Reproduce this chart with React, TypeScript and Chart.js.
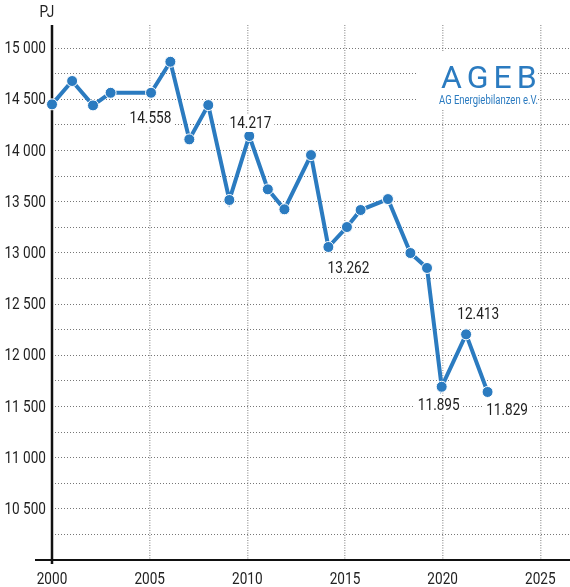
import { useEffect, useRef } from "react";
import { Chart, registerables } from "chart.js";

Chart.register(...registerables);

// ---- data ----
const years = [
  2000, 2001.03, 2002.1, 2003.0, 2005.07, 2006.06, 2007.03, 2008.0, 2009.08,
  2010.1, 2011.05, 2011.9, 2013.26, 2014.15, 2015.1, 2015.8, 2017.2, 2018.35,
  2019.2, 2019.95, 2021.2, 2022.3,
];
const valuesPJ = [
  14450, 14678, 14440, 14563, 14563, 14866, 14108, 14443, 13516, 14141, 13620,
  13425, 13955, 13057, 13252, 13418, 13525, 12998, 12852, 11692, 12204, 11641,
];

const labelTexts = ["14.558", "14.217", "13.262", "11.895", "12.413", "11.829"];
const labelX = [2005.04, 2010.16, 2015.18, 2019.8, 2021.82, 2023.3];
const labelY = [14321, 14268, 12852, 11514, 12402, 11465];

const xTickValues = [2000, 2005, 2010, 2015, 2020, 2025];
const yGridValues = [
  10250, 10500, 10750, 11000, 11250, 11500, 11750, 12000, 12250, 12500, 12750,
  13000, 13250, 13500, 13750, 14000, 14250, 14500, 14750, 15000,
];

const unitLabel = "PJ";
const logoTitle = "AGEB";
const logoSubtitle = "AG Energiebilanzen e.V.";

const BLUE = "#2b7bc0";
const TEXT = "#222";
const FONT = "Roboto, 'Noto Sans', sans-serif";
const FS = 17;
const SX = 0.8;

function fmtY(v: number): string {
  const th = Math.floor(v / 1000);
  const rest = String(v % 1000).padStart(3, "0");
  return th + " " + rest;
}

function narrowText(ctx: CanvasRenderingContext2D, t: string, x: number, y: number, align: CanvasTextAlign, sx = SX) {
  ctx.save();
  ctx.translate(x, y);
  ctx.scale(sx, 1);
  ctx.textAlign = align;
  ctx.textBaseline = "middle";
  ctx.fillText(t, 0, 0);
  ctx.restore();
}

export default function App() {
  const ref = useRef<HTMLCanvasElement | null>(null);

  useEffect(() => {
    const canvas = ref.current;
    if (!canvas) return;

    const decor = {
      id: "decor",
      beforeDatasetsDraw(chart: any) {
        const ctx = chart.ctx;
        const ca = chart.chartArea;
        const xs = chart.scales.x;
        const ys = chart.scales.y;
        ctx.save();
        // logo background box
        ctx.fillStyle = "#fff";
        ctx.fillRect(418, 52, 119, 58);
        // axes
        ctx.strokeStyle = "#111";
        ctx.setLineDash([]);
        ctx.lineWidth = 2.5;
        ctx.beginPath();
        ctx.moveTo(ca.left, ca.top);
        ctx.lineTo(ca.left, ca.bottom + 4);
        ctx.stroke();
        ctx.lineWidth = 2;
        ctx.beginPath();
        ctx.moveTo(35, ca.bottom);
        ctx.lineTo(570, ca.bottom);
        ctx.stroke();
        // tick labels
        ctx.fillStyle = TEXT;
        ctx.font = FS + "px " + FONT;
        yGridValues.forEach((v) => {
          if (v % 500 !== 0) return;
          narrowText(ctx, fmtY(v), ca.left - 6, ys.getPixelForValue(v) + 1, "right");
        });
        xTickValues.forEach((v) => {
          narrowText(ctx, String(v), xs.getPixelForValue(v), ca.bottom + 20, "center");
        });
        narrowText(ctx, unitLabel, 47, 13, "center");
        ctx.restore();
      },
      afterDatasetsDraw(chart: any) {
        const ctx = chart.ctx;
        const xs = chart.scales.x;
        const ys = chart.scales.y;
        ctx.save();
        ctx.font = FS + "px " + FONT;
        labelTexts.forEach((t, i) => {
          const px = xs.getPixelForValue(labelX[i]);
          const py = ys.getPixelForValue(labelY[i]);
          const w = ctx.measureText(t).width * SX;
          ctx.fillStyle = "#fff";
          ctx.fillRect(px - w / 2 - 3, py - 9, w + 6, 18);
          ctx.fillStyle = TEXT;
          narrowText(ctx, t, px, py + 1, "center");
        });
        // logo
        ctx.fillStyle = BLUE;
        ctx.textAlign = "left";
        ctx.textBaseline = "alphabetic";
        ctx.font = "32px Roboto, 'Noto Sans', sans-serif";
        (ctx as any).letterSpacing = "5px";
        ctx.fillText(logoTitle, 441, 88);
        (ctx as any).letterSpacing = "0px";
        ctx.font = "12px " + FONT;
        const sw = ctx.measureText(logoSubtitle).width;
        narrowText(ctx, logoSubtitle, 439, 101, "left", Math.min(1, 99 / sw));
        ctx.restore();
      },
    };

    const chart = new Chart(canvas, {
      type: "line",
      data: {
        datasets: [
          {
            data: years.map((x, i) => ({ x, y: valuesPJ[i] })),
            borderColor: BLUE,
            backgroundColor: BLUE,
            borderWidth: 4,
            pointRadius: 5.5,
            pointBackgroundColor: BLUE,
            pointBorderColor: "#fff",
            pointBorderWidth: 1,
            tension: 0,
            clip: false as any,
          },
        ],
      },
      options: {
        animation: false,
        responsive: false,
        maintainAspectRatio: false,
        layout: { autoPadding: false, padding: { top: 25, right: 0, left: 0, bottom: 0 } },
        plugins: { legend: { display: false }, tooltip: { enabled: false } },
        scales: {
          x: {
            type: "linear",
            min: 2000,
            max: 2026.52,
            afterBuildTicks: (s: any) => {
              s.ticks = xTickValues.map((v) => ({ value: v }));
            },
            afterFit: (s: any) => {
              s.height = 27;
            },
            ticks: { display: false },
            grid: {
              drawTicks: false,
              color: (c: any) => (c.tick && c.tick.value === 2000 ? "rgba(0,0,0,0)" : "#a8a8a8"),
              lineWidth: 1.5,
            },
            border: { display: false, dash: [1, 1.5] },
          },
          y: {
            type: "linear",
            min: 10000,
            max: 15225,
            afterBuildTicks: (s: any) => {
              s.ticks = yGridValues.map((v) => ({ value: v }));
            },
            afterFit: (s: any) => {
              s.width = 52;
            },
            ticks: { display: false },
            grid: {
              drawTicks: false,
              color: "#777",
              lineWidth: 1,
            },
            border: { display: false, dash: [1, 2] },
          },
        },
      },
      plugins: [decor],
    });

    return () => chart.destroy();
  }, []);

  return (
    <canvas
      ref={ref}
      width={570}
      height={587}
      style={{ position: "fixed", left: 0, top: 0, width: 570, height: 587, background: "#fff" }}
    />
  );
}
